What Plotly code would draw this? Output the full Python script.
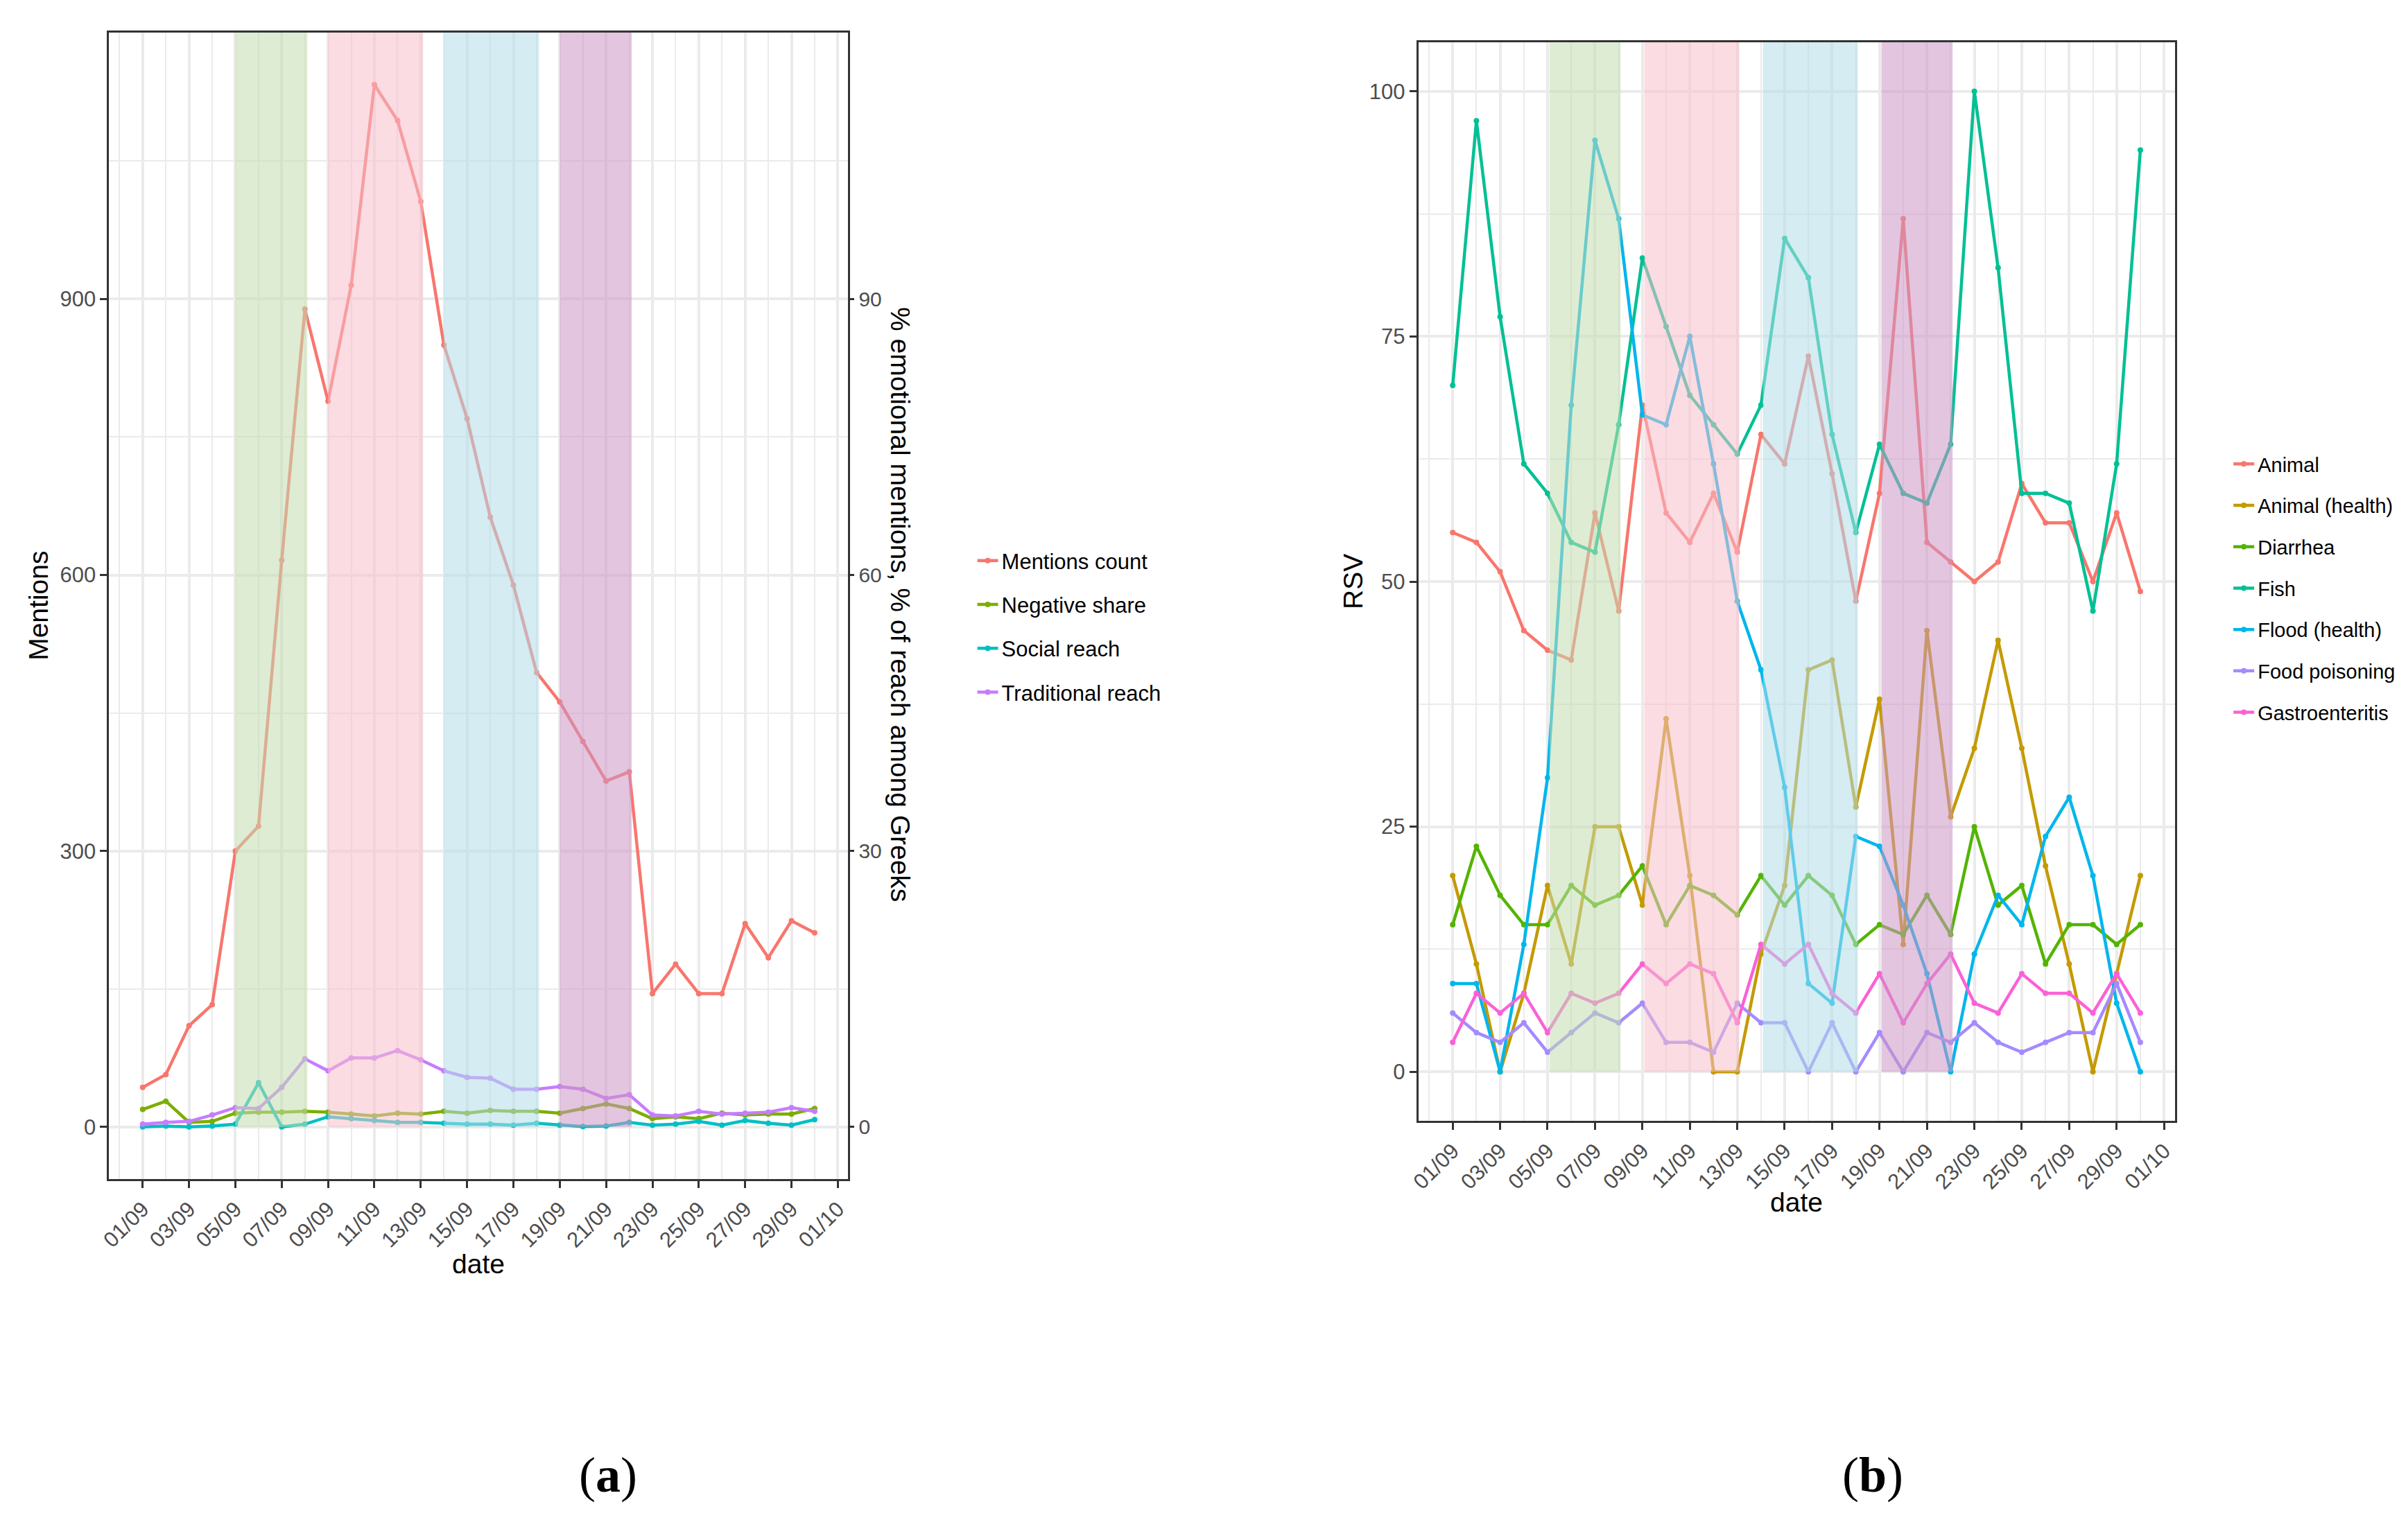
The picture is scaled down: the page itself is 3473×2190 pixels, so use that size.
import plotly.graph_objects as go
import pandas as pd

W, H = 3473, 2190

dates = [d.strftime("%Y-%m-%d") for d in pd.date_range("2021-09-01", periods=30, freq="D")]

# ---- panel (a) data ----
mentions_count = [43, 57, 110, 133, 300, 327, 616, 889, 789, 915, 1133, 1094, 1006, 850, 770,
                  663, 589, 494, 462, 419, 376, 386, 145, 177, 145, 145, 221, 184, 224, 211]
negative_share = [1.9, 2.8, 0.5, 0.6, 1.5, 1.6, 1.6, 1.7, 1.6, 1.4, 1.2, 1.5, 1.4, 1.7, 1.5,
                  1.8, 1.7, 1.7, 1.5, 2.0, 2.5, 2.0, 0.9, 1.1, 0.9, 1.5, 1.3, 1.4, 1.4, 2.0]
social_reach = [0.0, 0.1, 0.0, 0.1, 0.3, 4.8, 0.0, 0.3, 1.1, 0.9, 0.7, 0.5, 0.5, 0.4, 0.3,
                0.3, 0.2, 0.4, 0.2, 0.05, 0.1, 0.5, 0.2, 0.3, 0.6, 0.2, 0.7, 0.4, 0.2, 0.8]
traditional_reach = [0.3, 0.5, 0.6, 1.3, 2.1, 2.0, 4.3, 7.4, 6.1, 7.5, 7.5, 8.3, 7.3, 6.1, 5.4,
                     5.3, 4.1, 4.1, 4.4, 4.1, 3.1, 3.5, 1.3, 1.2, 1.7, 1.4, 1.5, 1.6, 2.1, 1.7]
left_names = ["Mentions count", "Negative share", "Social reach", "Traditional reach"]
left_colors = ["#F8766D", "#7CAE00", "#00BFC4", "#C77CFF"]

# ---- panel (b) data ----
animal = [55, 54, 51, 45, 43, 42, 57, 47, 68, 57, 54, 59, 53, 65, 62,
          73, 61, 48, 59, 87, 54, 52, 50, 52, 60, 56, 56, 50, 57, 49]
animal_health = [20, 11, 0, 8, 19, 11, 25, 25, 17, 36, 20, 0, 0, 12, 19,
                 41, 42, 27, 38, 13, 45, 26, 33, 44, 33, 21, 11, 0, 10, 20]
diarrhea = [15, 23, 18, 15, 15, 19, 17, 18, 21, 15, 19, 18, 16, 20, 17,
            20, 18, 13, 15, 14, 18, 14, 25, 17, 19, 11, 15, 15, 13, 15]
fish = [70, 97, 77, 62, 59, 54, 53, 66, 83, 76, 69, 66, 63, 68, 85,
        81, 65, 55, 64, 59, 58, 64, 100, 82, 59, 59, 58, 47, 62, 94]
flood_health = [9, 9, 0, 13, 30, 68, 95, 87, 67, 66, 75, 62, 48, 41, 29,
                9, 7, 24, 23, 17, 10, 0, 12, 18, 15, 24, 28, 20, 7, 0]
food_poisoning = [6, 4, 3, 5, 2, 4, 6, 5, 7, 3, 3, 2, 7, 5, 5,
                  0, 5, 0, 4, 0, 4, 3, 5, 3, 2, 3, 4, 4, 9, 3]
gastroenteritis = [3, 8, 6, 8, 4, 8, 7, 8, 11, 9, 11, 10, 5, 13, 11,
                   13, 8, 6, 10, 5, 9, 12, 7, 6, 10, 8, 8, 6, 10, 6]
right_names = ["Animal", "Animal (health)", "Diarrhea", "Fish", "Flood (health)",
               "Food poisoning", "Gastroenteritis"]
right_colors = ["#F8766D", "#C49A00", "#53B400", "#00C094", "#00B6EB", "#A58AFF", "#FB61D7"]

# ---- highlighted periods ----
band_colors = ["rgba(195,220,177,0.55)", "rgba(246,191,202,0.55)",
               "rgba(177,220,231,0.55)", "rgba(204,150,197,0.55)"]
left_band_start = ["2021-09-05 00:00", "2021-09-09 00:00", "2021-09-14 00:00", "2021-09-19 00:00"]
left_band_end = ["2021-09-08 02:30", "2021-09-13 02:30", "2021-09-18 02:30", "2021-09-22 02:30"]
right_band_start = ["2021-09-05 02:00", "2021-09-09 02:00", "2021-09-14 02:00", "2021-09-19 02:00"]
right_band_end = ["2021-09-08 02:00", "2021-09-13 02:00", "2021-09-18 02:00", "2021-09-22 02:00"]

x_range = ["2021-08-30 13:12", "2021-10-01 10:48"]
left_y_range = [-56.65, 1189.65]
sec_scale = 10.0
left_y2_range = [left_y_range[0] / sec_scale, left_y_range[1] / sec_scale]
right_y_range = [-5, 105]

FONT = "Liberation Sans"
TICK_FONT = dict(family=FONT, size=31, color="#4D4D4D")
GRID = "#EBEBEB"
DARK = "#333333"
LW = 4.5
MS = 8


def px(x):
    return x / W


def py(y):
    return 1 - y / H


fig = go.Figure()

left_series = [(mentions_count, "y"), (negative_share, "y2"), (social_reach, "y2"),
               (traditional_reach, "y2")]
for (vals, ya), name, col in zip(left_series, left_names, left_colors):
    fig.add_trace(go.Scatter(x=dates, y=vals, name=name, mode="lines+markers",
                             line=dict(color=col, width=LW), marker=dict(color=col, size=MS),
                             xaxis="x", yaxis=ya, legend="legend", legendgroup=name))

right_series = [animal, animal_health, diarrhea, fish, flood_health, food_poisoning, gastroenteritis]
for vals, name, col in zip(right_series, right_names, right_colors):
    fig.add_trace(go.Scatter(x=dates, y=vals, name=name, mode="lines+markers",
                             line=dict(color=col, width=LW), marker=dict(color=col, size=MS),
                             xaxis="x2", yaxis="y3", legend="legend2", legendgroup=name))

shapes = []
for s, e, c in zip(left_band_start, left_band_end, band_colors):
    shapes.append(dict(type="rect", xref="x", yref="y", x0=s, x1=e, y0=0, y1=left_y_range[1],
                       fillcolor=c, line=dict(width=0), layer="above"))
for s, e, c in zip(right_band_start, right_band_end, band_colors):
    shapes.append(dict(type="rect", xref="x2", yref="y3", x0=s, x1=e, y0=0, y1=right_y_range[1],
                       fillcolor=c, line=dict(width=0), layer="above"))


def xaxis_cfg(domain, anchor):
    return dict(domain=domain, anchor=anchor, type="date", range=x_range,
                tickformat="%d/%m", tick0="2021-09-01", dtick=2 * 86400000, tickangle=-45,
                ticks="outside", ticklen=10, tickwidth=3, tickcolor=DARK, tickfont=TICK_FONT,
                showgrid=True, gridcolor=GRID, gridwidth=3.5,
                minor=dict(dtick=86400000, tick0="2021-09-01", showgrid=True, gridcolor=GRID, gridwidth=1.8),
                showline=True, linecolor=DARK, linewidth=3, mirror=True, zeroline=False)


def yaxis_cfg(domain, anchor, rng, tv, minor_dt):
    return dict(domain=domain, anchor=anchor, range=rng, tickvals=tv,
                ticks="outside", ticklen=10, tickwidth=3, tickcolor=DARK, tickfont=TICK_FONT,
                showgrid=True, gridcolor=GRID, gridwidth=3.5,
                minor=dict(dtick=minor_dt, tick0=0, showgrid=True, gridcolor=GRID, gridwidth=1.8),
                showline=True, linecolor=DARK, linewidth=3, mirror=True, zeroline=False)


ldom_x = [px(143), px(1214)]
ldom_y = [py(1701), py(47)]
rdom_x = [px(2040), px(3136)]
rdom_y = [py(1617), py(61)]

TITLE_FONT = dict(family=FONT, size=39, color="black")
LABEL_FONT = dict(family="Liberation Serif", size=72, color="black")
annotations = [
    dict(text="date", x=px((143 + 1214) / 2), y=py(1823), xref="paper", yref="paper",
         showarrow=False, font=TITLE_FONT, xanchor="center", yanchor="middle"),
    dict(text="date", x=px((2040 + 3136) / 2), y=py(1734), xref="paper", yref="paper",
         showarrow=False, font=TITLE_FONT, xanchor="center", yanchor="middle"),
    dict(text="Mentions", x=px(40), y=py(874), xref="paper", yref="paper", textangle=-90,
         showarrow=False, font=TITLE_FONT, xanchor="center", yanchor="middle"),
    dict(text="RSV", x=px(1946), y=py(839), xref="paper", yref="paper", textangle=-90,
         showarrow=False, font=TITLE_FONT, xanchor="center", yanchor="middle"),
    dict(text="% emotional mentions, % of reach among Greeks", x=px(1290), y=py(872),
         xref="paper", yref="paper", textangle=90, showarrow=False, font=TITLE_FONT,
         xanchor="center", yanchor="middle"),
    dict(text="(<b>a</b>)", x=px(866), y=py(2128), xref="paper", yref="paper",
         showarrow=False, font=LABEL_FONT, xanchor="center", yanchor="middle"),
    dict(text="(<b>b</b>)", x=px(2698), y=py(2128), xref="paper", yref="paper",
         showarrow=False, font=LABEL_FONT, xanchor="center", yanchor="middle"),
]

fig.update_layout(
    width=W, height=H, margin=dict(l=0, r=0, t=0, b=0),
    paper_bgcolor="white", plot_bgcolor="white",
    font=dict(family=FONT, size=31, color="black"),
    xaxis=xaxis_cfg(ldom_x, "y"),
    yaxis=yaxis_cfg(ldom_y, "x", left_y_range, [0, 300, 600, 900], 150),
    yaxis2=dict(overlaying="y", side="right", anchor="x", range=left_y2_range,
                tickvals=[0, 30, 60, 90], ticks="outside", ticklen=8, tickwidth=3,
                tickcolor=DARK, tickfont=dict(family=FONT, size=30, color="#4D4D4D"),
                showgrid=False, showline=False, zeroline=False),
    xaxis2=xaxis_cfg(rdom_x, "y3"),
    yaxis3=yaxis_cfg(rdom_y, "x2", right_y_range, [0, 25, 50, 75, 100], 12.5),
    shapes=shapes,
    annotations=annotations,
    legend=dict(x=px(1396), y=py(782), xanchor="left", yanchor="top",
                font=dict(family=FONT, size=31, color="black"), tracegroupgap=20,
                traceorder="grouped", bgcolor="rgba(0,0,0,0)"),
    legend2=dict(x=px(3216), y=py(644), xanchor="left", yanchor="top",
                 font=dict(family=FONT, size=29, color="black"), tracegroupgap=19,
                 traceorder="grouped", bgcolor="rgba(0,0,0,0)"),
    showlegend=True,
)

fig.write_html("out.html", post_script="document.body.style.margin='0';",
               config={"displayModeBar": False})
